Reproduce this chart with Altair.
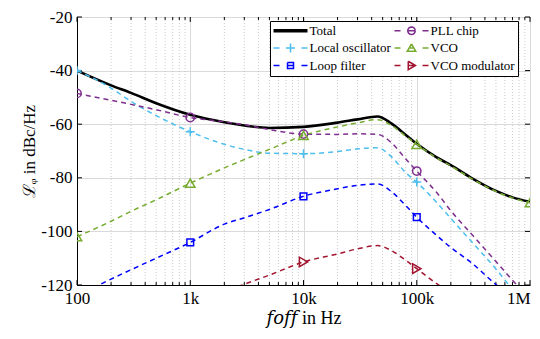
import math
import altair as alt
import pandas as pd

# ---------------- data ----------------
freqs = [100, 200, 300, 500, 1e3, 2e3, 3e3, 5e3, 1e4, 2e4, 3e4, 4.5e4, 6e4, 8e4,
         1e5, 1.5e5, 2e5, 3e5, 5e5, 7e5, 1e6]

total = [-40.0, -45.5, -48.3, -52.2, -56.5, -59.3, -60.5, -61.4, -61.0, -59.4, -58.2, -57.1,
         -59.8, -64.0, -67.3, -72.4, -75.3, -79.9, -84.9, -87.3, -89.0]
local_osc = [-40.0, -46.5, -51.5, -56.8, -62.8, -67.5, -69.4, -70.8, -71.0, -70.2, -69.2, -68.8,
             -72.2, -78.1, -81.6, -89.2, -95.1, -103.5, -114.0, -121.5, -128.0]
loop_filter = [-124.0, -117.8, -114.3, -110.0, -104.1, -97.3, -94.9, -91.8, -86.9, -84.1, -82.8, -82.3,
               -85.2, -90.4, -94.7, -101.5, -106.0, -111.5, -119.8, -124.5, -130.0]
pll_chip = [-48.5, -51.1, -52.6, -54.6, -57.5, -59.1, -60.2, -62.0, -63.7, -63.8, -63.6, -63.8,
            -67.0, -73.0, -77.5, -85.5, -92.3, -100.7, -111.2, -118.2, -125.0]
vco = [-102.0, -96.2, -92.5, -88.2, -82.0, -76.3, -73.2, -69.4, -64.2, -61.0, -59.5, -58.3,
       -60.5, -64.5, -67.5, -72.6, -75.6, -80.1, -85.1, -87.5, -89.3]
vco_mod = [-142.0, -138.0, -136.0, -133.0, -128.0, -122.6, -119.7, -116.3, -111.4, -108.4, -106.5, -105.3,
           -107.2, -110.8, -113.9, -119.5, -123.0, -130.0, -138.0, -143.0, -148.0]

series_names = ["Total", "Local oscillator", "Loop filter", "PLL chip", "VCO", "VCO modulator"]
series_values = [total, local_osc, loop_filter, pll_chip, vco, vco_mod]

decades = [100, 1e3, 1e4, 1e5, 1e6]
decade_labels = ["100", "1k", "10k", "100k", "1M"]
minor_freqs = [k * 10 ** d for d in range(2, 6) for k in range(2, 10)]
y_ticks = [-120, -100, -80, -60, -40, -20]

# legend fills column-major: first column Total/Local oscillator/Loop filter
legend_order = series_names
color_map = {"Total": "#000000", "Local oscillator": "#4DBEEE", "Loop filter": "#0000FF",
             "PLL chip": "#7E2F8E", "VCO": "#77AC30", "VCO modulator": "#A2142F"}

# ---------------- tables ----------------
rows = []
for name, vals in zip(series_names, series_values):
    for f, v in zip(freqs, vals):
        rows.append({"f": f, "L": v, "series": name})
df = pd.DataFrame(rows)
markers = df[df["f"].isin(decades) & (df["series"] != "Total")]

YMIN, YMAX = -120, -20
MAJ, MIN_ = 1.84, 1.1
XT = 0.0442
tick_rows = []
for f in decades:
    tick_rows += [{"f": f, "y0": YMIN, "y1": YMIN + MAJ}, {"f": f, "y0": YMAX - MAJ, "y1": YMAX}]
for f in minor_freqs:
    tick_rows += [{"f": f, "y0": YMIN, "y1": YMIN + MIN_}, {"f": f, "y0": YMAX - MIN_, "y1": YMAX}]
xticks_df = pd.DataFrame(tick_rows)
ytick_rows = []
for v in y_ticks:
    ytick_rows += [{"x0": 100, "x1": 100 * 10 ** XT, "y": v}, {"x0": 1e6 / 10 ** XT, "x1": 1e6, "y": v}]
yticks_df = pd.DataFrame(ytick_rows)

# ---------------- scales / axes / legend ----------------
FONT = "Liberation Serif, Times New Roman, Times, DejaVu Serif, serif"
x_scale = alt.Scale(type="log", domain=[100, 1e6], nice=False)
y_scale = alt.Scale(domain=[YMIN, YMAX], nice=False)
color_scale = alt.Scale(domain=legend_order, range=[color_map[s] for s in legend_order])

label_expr = " : ".join(
    [f"datum.value == {int(v)} ? '{l}'" for v, l in zip(decades[:-1], decade_labels[:-1])]
) + f" : '{decade_labels[-1]}'"

x_axis = alt.Axis(values=decades, labelExpr=label_expr, grid=True, gridColor="#dadada",
                  ticks=False, domainColor="black", labelFont=FONT, labelFontSize=17,
                  labelColor="black", labelPadding=5, labelFlush=False, labelOverlap=False,
                  labelAlign={"condition": {"test": "datum.value >= 1000000", "value": "right"},
                              "value": "center"},
                  title="𝑓𝑜𝑓𝑓 in Hz", titleFont=FONT, titleFontSize=18, titleFontWeight="normal",
                  titleColor="black", titlePadding=3)
y_axis = alt.Axis(values=y_ticks, grid=True, gridColor="#dadada", ticks=False,
                  domainColor="black", labelFont=FONT, labelFontSize=17, labelColor="black",
                  labelPadding=5, labelExpr="datum.value < 0 ? '-' + abs(datum.value) : '' + datum.value",
                  title="ℒᵩ in dBc/Hz", titleFont=FONT, titleFontSize=17, titleFontWeight="normal",
                  titleColor="black", titlePadding=2)

circ = "M" + "L".join(f"{0.75*math.cos(a*math.pi/8):.3f},{0.75*math.sin(a*math.pi/8):.3f}"
                      for a in range(17))
D = "M-3.4,0L-2.2,0M2.2,0L3.4,0"
legend_paths = {
    "Total": "M-3.4,0L3.4,0M-3.4,-0.22L3.4,-0.22M-3.4,0.22L3.4,0.22",
    "Local oscillator": D + "M-0.9,0L0.9,0M0,-0.9L0,0.9",
    "Loop filter": D + "M-0.6,-0.6L0.6,-0.6L0.6,0.6L-0.6,0.6L-0.6,-0.6M-0.6,0L0.6,0",
    "PLL chip": D + circ + "M-0.75,0L0.75,0",
    "VCO": D + "M0,-0.8L0.85,0.65L-0.85,0.65L0,-0.8M-0.6,0L0.6,0",
    "VCO modulator": D + "M-0.65,-0.85L0.8,0L-0.65,0.85L-0.65,-0.85M-0.65,0L0.8,0",
}
legend = alt.Legend(title=None, orient="none", legendX=193, legendY=4, columns=2,
                    symbolSize=100, symbolStrokeWidth=1.5, symbolOffset=11, labelOffset=12.5,
                    labelFont=FONT, labelFontSize=13, labelColor="black", labelLimit=300,
                    fillColor="white", strokeColor="black", padding=3, rowPadding=2.5,
                    columnPadding=0)

X = lambda field="f:Q": alt.X(field, scale=x_scale, axis=x_axis)
Y = lambda field="L:Q": alt.Y(field, scale=y_scale, axis=y_axis)
C = lambda: alt.Color("series:N", scale=color_scale, legend=legend)

# ---------------- layers ----------------
minor_grid = alt.Chart(pd.DataFrame({"f": minor_freqs})).mark_rule(
    color="#bdbdbd", strokeDash=[1, 2], strokeWidth=0.8
).encode(x=X())

xticks = alt.Chart(xticks_df).mark_rule(color="black", strokeWidth=1).encode(
    x=X(), y=Y("y0:Q"), y2="y1:Q")
yticks = alt.Chart(yticks_df).mark_rule(color="black", strokeWidth=1).encode(
    x=X("x0:Q"), x2="x1:Q", y=Y("y:Q"))

total_line = alt.Chart(df[df["series"] == "Total"]).mark_line(
    clip=True, interpolate="monotone", strokeWidth=2.6
).encode(x=X(), y=Y(), color=C())

comp_lines = alt.Chart(df[df["series"] != "Total"]).mark_line(
    clip=True, interpolate="monotone", strokeWidth=1.5, strokeDash=[5, 4]
).encode(x=X(), y=Y(), color=C())

marker_shapes = {"Local oscillator": ("M-1,0L1,0M0,-1L0,1", 80),
                 "Loop filter": ("square", 45),
                 "PLL chip": ("circle", 70),
                 "VCO": ("triangle-up", 90),
                 "VCO modulator": ("triangle-right", 90)}
marker_layers = []
for name, (shp, sz) in marker_shapes.items():
    marker_layers.append(
        alt.Chart(markers[markers["series"] == name]).mark_point(
            shape=shp, size=sz, filled=False, strokeWidth=1.5, opacity=1, clip=True
        ).encode(x=X(), y=Y(), color=C())
    )

legend_layer = alt.Chart(markers).transform_calculate(Lh="-500").mark_point(
    filled=False, opacity=1, strokeWidth=1.5, clip=True
).encode(
    x=X(), y=Y("Lh:Q"), color=C(),
    shape=alt.Shape("series:N", scale=alt.Scale(domain=legend_order,
                                                range=[legend_paths[s] for s in legend_order]),
                    legend=legend),
)

chart = alt.layer(minor_grid, xticks, yticks, total_line, comp_lines, *marker_layers,
                  legend_layer).properties(
    width=453, height=268,
    autosize=alt.AutoSizeParams(type="none"),
    padding={"left": 69, "top": 9, "right": 2, "bottom": 46},
    background="white",
).configure_view(stroke="black", strokeWidth=1)

chart.save("out.html", embed_options={"renderer": "svg", "actions": False})
